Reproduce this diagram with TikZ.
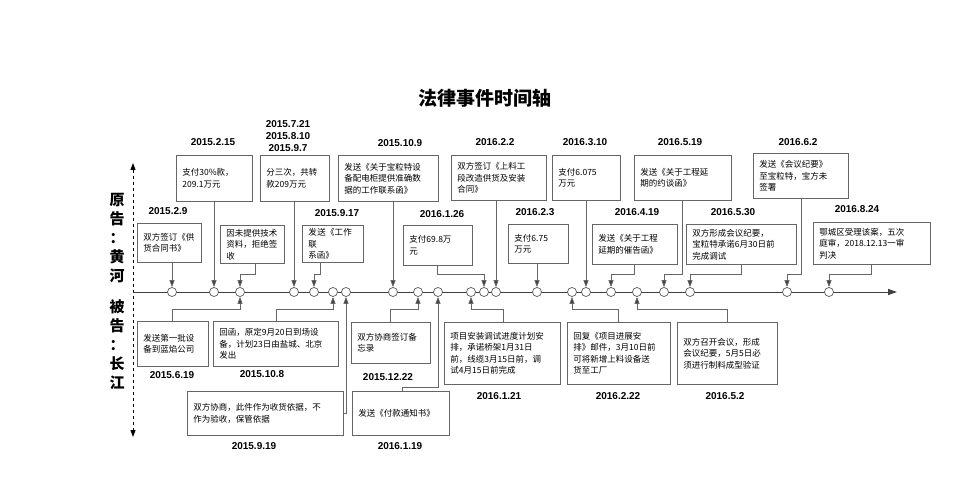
\documentclass[tikz,border=0pt]{standalone}
\usepackage{fontspec}
\setmainfont{Noto Sans CJK SC}
\newfontfamily\datefont{Liberation Sans}
\usetikzlibrary{arrows.meta}
\XeTeXlinebreaklocale "zh"
\XeTeXlinebreakskip=0pt plus 1pt
\begin{document}
\begin{tikzpicture}[x=1pt,y=-1pt,
  bx/.style={draw=black!60,line width=0.9pt,fill=white,align=left,font=\fontsize{8.5}{11.5}\selectfont,inner xsep=6pt,inner ysep=3pt,anchor=north west},
  dt/.style={font=\datefont\bfseries\fontsize{10}{12}\selectfont},
  dot/.style={circle,draw=black!65,fill=white,line width=0.7pt,minimum size=9pt,inner sep=0pt},
  arr/.style={draw=black!60,line width=0.8pt,-{Triangle[length=7pt,width=5pt,fill=black!75]},shorten >=0pt},
  lbl/.style={font=\bfseries\fontsize{15}{19}\selectfont,align=center}]
\useasboundingbox (0,0) rectangle (970,500);
\fill[white] (0,0) rectangle (970,500);
\node[font=\bfseries\fontsize{19}{22}\selectfont] (title) at (485,98) {法律事件时间轴};
% side axis
\coordinate (vt) at (133,163);
\coordinate (vb) at (133,437);
\draw[dashed,line width=1pt,{Triangle[length=7pt,width=5pt]}-{Triangle[length=7pt,width=5pt]}] (vt) -- (vb);
\node[lbl] (pl) at (117,238) {原\\告\\：\\黄\\河};
\node[lbl] (dl) at (117,345) {被\\告\\：\\长\\江};
% main axis
\coordinate (a0) at (133,292);
\coordinate (a1) at (897,292);
\draw[line width=1pt,black!75,-{Triangle[length=9pt,width=6pt]}] (a0) -- (a1);
% circles
\foreach \n/\x in {c1/172,c2/214,c3/240,c4/294,c5/314,c6/333,c7/346,c8/393,c9/418,c10/438,c11/471,c12/484,c13/496,c14/537,c15/572,c16/586,c17/611,c18/637,c19/664,c20/690,c21/787,c22/829}
  \node[dot] (\n) at (\x,292) {};
% top boxes
\node[bx,minimum width=64pt,minimum height=39pt,text width=52pt] (t1) at (137,223) {双方签订《供\\货合同书》};
\node[bx,minimum width=76pt,minimum height=46pt,text width=64pt] (t2) at (176,155) {支付30\%款，\\209.1万元};
\node[bx,minimum width=64pt,minimum height=38pt,text width=52pt] (t3) at (220,225) {因未提供技术\\资料，拒绝签\\收};
\node[bx,minimum width=69pt,minimum height=46pt,text width=57pt] (t4) at (260,155) {分三次，共转\\款209万元};
\node[bx,minimum width=61pt,minimum height=37pt,text width=49pt] (t5) at (302,225) {发送《工作联\\系函》};
\node[bx,minimum width=100pt,minimum height=46pt,text width=88pt] (t6) at (338,155) {发送《关于宝粒特设\\备配电柜提供准确数\\据的工作联系函》};
\node[bx,minimum width=69pt,minimum height=40pt,text width=57pt] (t7) at (403,225) {支付69.8万\\元};
\node[bx,minimum width=95pt,minimum height=45pt,text width=83pt] (t8) at (451,155) {双方签订《上料工\\段改造供货及安装\\合同》};
\node[bx,minimum width=60pt,minimum height=39pt,text width=48pt] (t9) at (508,224) {支付6.75\\万元};
\node[bx,minimum width=68pt,minimum height=45pt,text width=56pt] (t10) at (552,155) {支付6.075\\万元};
\node[bx,minimum width=85pt,minimum height=40pt,text width=73pt] (t11) at (592,224) {发送《关于工程\\延期的催告函》};
\node[bx,minimum width=97pt,minimum height=45pt,text width=85pt] (t12) at (634,155) {发送《关于工程延\\期的约谈函》};
\node[bx,minimum width=110pt,minimum height=40pt,text width=98pt] (t13) at (686,224) {双方形成会议纪要，\\宝粒特承诺6月30日前\\完成调试};
\node[bx,minimum width=95pt,minimum height=45pt,text width=83pt] (t14) at (753,153) {发送《会议纪要》\\至宝粒特，宝方未\\签署};
\node[bx,minimum width=117pt,minimum height=42pt,text width=105pt] (t15) at (813,222) {鄂城区受理该案，五次\\庭审，2018.12.13一审\\判决};
% bottom boxes
\node[bx,minimum width=71pt,minimum height=45pt,text width=59pt] (b1) at (137,321) {发送第一批设\\备到蓝焰公司};
\node[bx,minimum width=125pt,minimum height=45pt,text width=113pt] (b2) at (213,321) {回函，原定9月20日到场设\\备，计划23日由盐城、北京\\发出};
\node[bx,minimum width=79pt,minimum height=41pt,text width=67pt] (b3) at (351,322) {双方协商签订备\\忘录};
\node[bx,minimum width=156pt,minimum height=44pt,text width=144pt] (b4) at (187,391) {双方协商，此件作为收货依据，不\\作为验收，保管依据};
\node[bx,minimum width=97pt,minimum height=44pt,text width=85pt] (b5) at (352,391) {发送《付款通知书》};
\node[bx,minimum width=116pt,minimum height=62pt,text width=104pt] (b6) at (444,322) {项目安装调试进度计划安\\排，承诺桥架1月31日\\前，线缆3月15日前，调\\试4月15日前完成};
\node[bx,minimum width=103pt,minimum height=62pt,text width=91pt] (b7) at (567,322) {回复《项目进展安\\排》邮件，3月10日前\\可将新增上料设备送\\货至工厂};
\node[bx,minimum width=100pt,minimum height=62pt,text width=88pt] (b8) at (677,322) {双方召开会议，形成\\会议纪要，5月5日必\\须进行制料成型验证};
% top connectors
\draw[arr] (t1.south -| c1) -- (c1.north);
\draw[arr] (t2.south -| c2) -- (c2.north);
\draw[arr] (t3.south -| 255,0) -- (255,274) -| (c3.north);
\draw[arr] (t4.south -| c4) -- (c4.north);
\draw[arr] (t5.south -| 320,0) -- (320,274) -| (c5.north);
\draw[arr] (t6.south -| c8) -- (c8.north);
\draw[arr] (t7.south -| 437,0) -- (437,274) -| (c12.north);
\draw[arr] (t8.south -| c13) -- (c13.north);
\draw[arr] (t9.south -| c14) -- (c14.north);
\draw[arr] (t10.south -| c16) -- (c16.north);
\draw[arr] (t11.south -| 634,0) -- (634,274) -| (c17.north);
\draw[arr] (t12.south -| 682,0) -- (682,274) -| (c19.north);
\draw[arr] (t13.south -| 741,0) -- (741,274) -| (c20.north);
\draw[arr] (t14.south -| 801,0) -- (801,274) -| (c21.north);
\draw[arr] (t15.south -| 871,0) -- (871,274) -| (c22.north);
% bottom connectors
\draw[arr] (b1.north -| 172,0) -- (172,309) -| (c3.south);
\draw[arr] (b2.north -| 276,0) -- (276,309) -| (c6.south);
\draw[arr] (b3.north -| 390,0) -- (390,309) -| (c9.south);
\draw[arr] (b4.east) -| (c7.south);
\draw[arr] (b5.north -| 402,0) -- (402,387) -| (c10.south);
\draw[arr] (b6.north -| 503,0) -- (503,309) -| (c11.south);
\draw[arr] (b7.north -| 618,0) -- (618,309) -| (c15.south);
\draw[arr] (b8.north -| 727,0) -- (727,309) -| (c18.south);
% dates
\node[dt] (d1) at (168,211) {2015.2.9};
\node[dt] (d2) at (213,142) {2015.2.15};
\node[dt,align=center,font=\datefont\bfseries\fontsize{10}{12}\selectfont] (d3) at (288,136) {2015.7.21\\2015.8.10\\2015.9.7};
\node[dt] (d4) at (400,143) {2015.10.9};
\node[dt] (d5) at (337,213) {2015.9.17};
\node[dt] (d6) at (442,214) {2016.1.26};
\node[dt] (d7) at (495,142) {2016.2.2};
\node[dt] (d8) at (535,212) {2016.2.3};
\node[dt] (d9) at (585,142) {2016.3.10};
\node[dt] (d10) at (637,212) {2016.4.19};
\node[dt] (d11) at (680,142) {2016.5.19};
\node[dt] (d12) at (733,212) {2016.5.30};
\node[dt] (d13) at (798,142) {2016.6.2};
\node[dt] (d14) at (857,209) {2016.8.24};
\node[dt] (e1) at (172,375) {2015.6.19};
\node[dt] (e2) at (262,374) {2015.10.8};
\node[dt] (e3) at (388,377) {2015.12.22};
\node[dt] (e4) at (254,446) {2015.9.19};
\node[dt] (e5) at (400,446) {2016.1.19};
\node[dt] (e6) at (499,396) {2016.1.21};
\node[dt] (e7) at (618,396) {2016.2.22};
\node[dt] (e8) at (725,396) {2016.5.2};
\end{tikzpicture}
\end{document}
